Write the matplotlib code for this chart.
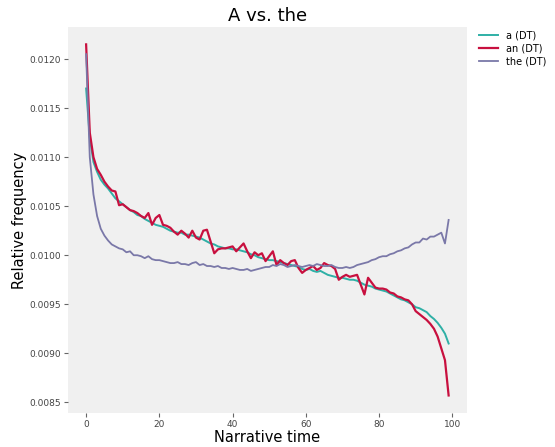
import matplotlib
matplotlib.use("Agg")
import matplotlib.pyplot as plt
import numpy as np

narrative_time = list(range(100))

a_dt = [0.01170, 0.01120, 0.01095, 0.01085, 0.01077, 0.01072, 0.01068, 0.01063, 0.01058, 0.01055,
        0.01052, 0.01049, 0.01046, 0.01044, 0.01041, 0.01040, 0.01037, 0.01035, 0.01033, 0.01031,
        0.01030, 0.01029, 0.01027, 0.01025, 0.01024, 0.01023, 0.01023, 0.01021, 0.01021, 0.01020,
        0.01019, 0.01018, 0.01016, 0.01014, 0.01012, 0.01011, 0.01009, 0.01008, 0.01007, 0.01007,
        0.01006, 0.01006, 0.01005, 0.01004, 0.01003, 0.01001, 0.01000, 0.00998, 0.00997, 0.00996,
        0.00995, 0.00995, 0.00994, 0.00993, 0.00992, 0.00991, 0.00990, 0.00989, 0.00988, 0.00986,
        0.00985, 0.00986, 0.00984, 0.00983, 0.00984, 0.00982, 0.00980, 0.00979, 0.00978, 0.00977,
        0.00977, 0.00976, 0.00975, 0.00975, 0.00974, 0.00972, 0.00970, 0.00969, 0.00968, 0.00966,
        0.00965, 0.00964, 0.00963, 0.00961, 0.00959, 0.00957, 0.00955, 0.00954, 0.00952, 0.00950,
        0.00947, 0.00946, 0.00944, 0.00942, 0.00938, 0.00935, 0.00931, 0.00926, 0.00920, 0.00910]

an_dt = [0.01215, 0.01125, 0.01100, 0.01088, 0.01082, 0.01075, 0.01070, 0.01066, 0.01065, 0.01051,
         0.01052, 0.01049, 0.01046, 0.01045, 0.01043, 0.01040, 0.01038, 0.01043, 0.01031, 0.01038,
         0.01041, 0.01031, 0.01030, 0.01028, 0.01024, 0.01021, 0.01025, 0.01022, 0.01018, 0.01025,
         0.01018, 0.01016, 0.01025, 0.01026, 0.01014, 0.01002, 0.01006, 0.01007, 0.01007, 0.01008,
         0.01009, 0.01004, 0.01008, 0.01012, 0.01004, 0.00997, 0.01003, 0.01000, 0.01002, 0.00994,
         0.00999, 0.01004, 0.00990, 0.00995, 0.00992, 0.00990, 0.00994, 0.00995, 0.00987, 0.00982,
         0.00985, 0.00987, 0.00989, 0.00985, 0.00987, 0.00992, 0.00990, 0.00989, 0.00986, 0.00975,
         0.00978, 0.00980, 0.00978, 0.00979, 0.00980, 0.00970, 0.00960, 0.00977, 0.00972, 0.00967,
         0.00966, 0.00966, 0.00965, 0.00962, 0.00961, 0.00958, 0.00957, 0.00955, 0.00954, 0.00950,
         0.00943, 0.00940, 0.00937, 0.00934, 0.00930, 0.00925, 0.00917, 0.00905, 0.00893, 0.00857]

the_dt = [0.01205, 0.01100, 0.01062, 0.01040, 0.01027, 0.01020, 0.01015, 0.01011, 0.01009, 0.01007,
          0.01006, 0.01003, 0.01004, 0.01000, 0.01000, 0.00999, 0.00997, 0.00999, 0.00996, 0.00995,
          0.00995, 0.00994, 0.00993, 0.00992, 0.00992, 0.00993, 0.00991, 0.00991, 0.00990, 0.00992,
          0.00993, 0.00990, 0.00991, 0.00989, 0.00989, 0.00988, 0.00989, 0.00987, 0.00987, 0.00986,
          0.00987, 0.00986, 0.00985, 0.00985, 0.00986, 0.00984, 0.00985, 0.00986, 0.00987, 0.00988,
          0.00988, 0.00990, 0.00989, 0.00991, 0.00990, 0.00988, 0.00989, 0.00990, 0.00989, 0.00988,
          0.00989, 0.00990, 0.00989, 0.00991, 0.00990, 0.00989, 0.00989, 0.00990, 0.00988, 0.00987,
          0.00987, 0.00988, 0.00987, 0.00988, 0.00990, 0.00991, 0.00992, 0.00993, 0.00995, 0.00996,
          0.00998, 0.00999, 0.00999, 0.01001, 0.01002, 0.01004, 0.01005, 0.01007, 0.01008, 0.01011,
          0.01013, 0.01013, 0.01017, 0.01016, 0.01019, 0.01019, 0.01021, 0.01023, 0.01012, 0.01036]

labels = ["a (DT)", "an (DT)", "the (DT)"]
colors = ["#2fb0a6", "#c8103f", "#7a78a8"]
widths = [1.4, 1.6, 1.3]
series = [a_dt, an_dt, the_dt]

fig = plt.figure(figsize=(5.55, 4.47), dpi=100)
ax = fig.add_axes([0.1225, 0.076, 0.7185, 0.864])
ax.set_facecolor("#f0f0f0")
for s, lab, c, w in zip(series, labels, colors, widths):
    ax.plot(narrative_time, s, color=c, lw=w, label=lab)

for sp in ax.spines.values():
    sp.set_visible(False)
ax.margins(x=0.05, y=0.05)
ax.set_xticks([0, 20, 40, 60, 80, 100])
ax.set_yticks([0.0085, 0.0090, 0.0095, 0.0100, 0.0105, 0.0110, 0.0115, 0.0120])
ax.yaxis.set_major_formatter(matplotlib.ticker.FormatStrFormatter("%.4f"))
ax.tick_params(labelsize=6.5, length=3, width=0.8, pad=2, color="#666666", labelcolor="#444444")
ax.set_title("A vs. the", fontsize=13, pad=4)
ax.set_xlabel("Narrative time", fontsize=10.5, labelpad=1)
ax.set_ylabel("Relative frequency", fontsize=10.5, labelpad=2)
ax.legend(loc="upper left", bbox_to_anchor=(1.02, 1.0), frameon=False, fontsize=7,
          handlelength=2.0, borderaxespad=0.0, labelspacing=0.3)

fig.savefig("out.png", dpi=100)
